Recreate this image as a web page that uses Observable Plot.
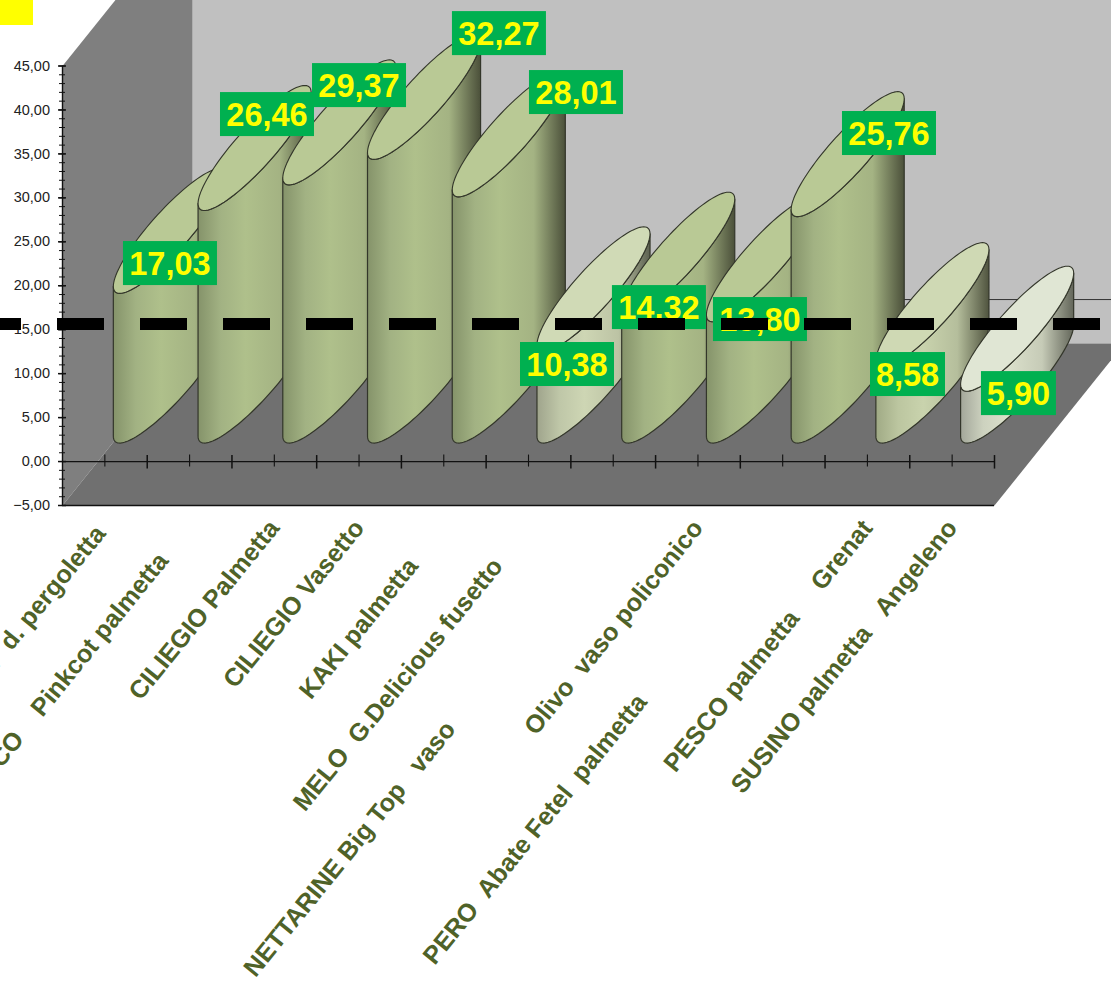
<!DOCTYPE html>
<html>
<head>
<meta charset="utf-8">
<script src="https://cdn.jsdelivr.net/npm/d3@7"></script>
<script src="https://cdn.jsdelivr.net/npm/@observablehq/plot@0.6"></script>
<style>html,body{margin:0;padding:0;background:#fff;overflow:hidden}</style>
</head>
<body>
<div id="chart"></div>
<script>
const categories = ["r  d. pergoletta ","ALBICOCCO    Pinkcot palmetta      ","CILIEGIO Palmetta","CILIEGIO Vasetto","KAKI palmetta       ","MELO  G.Delicious fusetto       ","NETTARINE Big Top   vaso                                     ","Olivo  vaso policonico","PERO  Abate Fetel  palmetta                                ","PESCO palmetta     Grenat","SUSINO palmetta   Angeleno"];
const values = [17.03,26.46,29.37,32.27,28.01,10.38,14.32,13.80,25.76,8.58,5.90];
const valueLabels = ["17,03","26,46","29,37","32,27","28,01","10,38","14,32","13,80","25,76","8,58","5,90"];
const topColors = ["#b9c995","#b9c995","#b9c995","#b9c995","#b9c995","#d0dab6","#b9c995","#b9c995","#b9c995","#cfd9b4","#e0e6d4"];
const stopOffsets = [0,.2,.42,.72,1];
const greenStops = ["#85936a","#a2b283","#afc08b","#a4b383","#4b503a"];
const gradientStops = [greenStops,greenStops,greenStops,greenStops,greenStops,
  ["#9fa48c","#bfc7a8","#ced6b4","#bcc3a4","#5c6150"],
  greenStops,greenStops,greenStops,
  ["#a0aa85","#bcc6a0","#c9d3ad","#b5be9c","#50543f"],
  ["#a3a79a","#cdd2bf","#dbe0cb","#c6cbb7","#63665a"]
];
// label box centre offset from the top-ellipse centre, in pixels
const labelDX = [0.6,12.9,20.2,75.4,67.7,-26,-18.8,-2.5,41.8,-24.4,1.8];
const labelDY = [32.7,-33.4,-36.8,-63.3,-41.8,75.2,52.9,60.3,-20.6,69.4,64.9];

const majorTicks = d3.range(-5,46,5);
const minorTicks = d3.range(-5,46,1);
const meanLine = 15.65;

const width = 1111, height = 991;
const margins = {marginLeft:62, marginRight:117, marginTop:65.5, marginBottom:486};
const pxX = (width - margins.marginLeft - margins.marginRight) / 11;
const pxY = (height - margins.marginTop - margins.marginBottom) / 50;
const ux = p => p / pxX, uy = p => p / pxY;

const depthX = ux(130), depthY = uy(162);
const at = (u, v, d = 0) => ({x: u + depthX * d, y: v + depthY * d});
const closed = pts => [...pts, pts[0]];

const ru = ux(26), rdx = ux(50.2), rdy = uy(62.5);
const t0 = Math.atan2(rdx, ru);
const ellipsePoint = (i, v, t) => ({
  x: i + 0.5 + depthX * 0.5 + ru * Math.cos(t) + rdx * Math.sin(t),
  y: v + depthY * 0.5 + rdy * Math.sin(t)
});
const sweep = (i, v, a, b, n = 64) => d3.range(n + 1).map(k => ellipsePoint(i, v, a + (b - a) * k / n));

const poly = (pts, o) => Plot.line(pts, {x:"x", y:"y", curve:"linear", ...o});

const defs = () => {
  const ns = "http://www.w3.org/2000/svg";
  const d = document.createElementNS(ns, "defs");
  gradientStops.forEach((s, i) => {
    const g = document.createElementNS(ns, "linearGradient");
    g.setAttribute("id", "g" + i);
    stopOffsets.forEach((o, k) => {
      const st = document.createElementNS(ns, "stop");
      st.setAttribute("offset", o);
      st.setAttribute("stop-color", s[k]);
      g.appendChild(st);
    });
    d.appendChild(g);
  });
  return d;
};

const cylinders = values.flatMap((v, i) => [
  poly(closed([...sweep(i, 0, t0 + Math.PI, t0 + 2 * Math.PI), ...sweep(i, v, t0 + 2 * Math.PI, t0 + Math.PI)]),
       {fill:`url(#g${i})`, stroke:"#33362a", strokeWidth:1.2}),
  poly(sweep(i, v, 0, 2 * Math.PI, 96), {fill:topColors[i], stroke:"#33362a", strokeWidth:1.1})
]);

const boxes = values.map((v, i) => {
  const cx = i + 0.5 + depthX * 0.5 + ux(labelDX[i]), cy = v + depthY * 0.5 - uy(labelDY[i]);
  const w = valueLabels[i].length === 5 ? 94 : 75;
  return {label:valueLabels[i], x:cx, y:cy, x1:cx - ux(w / 2), x2:cx + ux(w / 2), y1:cy - uy(22), y2:cy + uy(22)};
});

const font = "Liberation Sans, Arial, sans-serif";
const chart = Plot.plot({
  width, height, ...margins,
  style:{background:"#fff", fontFamily:font, overflow:"hidden"},
  x:{domain:[0,11], axis:null},
  y:{domain:[-5,45], axis:null},
  marks:[
    defs,
    // back wall, left wall, floor
    poly(closed([at(0,-5,1),at(11,-5,1),at(11,45,1),at(0,45,1)]), {fill:"#c0c0c0"}),
    poly(closed([at(0,-5),at(0,-5,1),at(0,45,1),at(0,45)]), {fill:"#7f7f7f"}),
    poly(closed([at(0,-5),at(11,-5),at(11,-5,1),at(0,-5,1)]), {fill:"#707070"}),
    Plot.ruleY([0 + depthY], {x1:depthX, x2:11 + depthX, stroke:"#333", strokeWidth:1}),
    // axes
    Plot.ruleX([0], {y1:-5, y2:45, stroke:"#111", strokeWidth:1.4}),
    Plot.ruleY([-5], {x1:0, x2:11, stroke:"#111", strokeWidth:1.6}),
    Plot.ruleY([0], {x1:0, x2:11, stroke:"#111", strokeWidth:1.2}),
    Plot.ruleY(minorTicks, {x1:ux(-3), x2:ux(3), stroke:"#111", strokeWidth:1}),
    Plot.ruleY(majorTicks, {x1:ux(-4), x2:ux(4), stroke:"#111", strokeWidth:1.5}),
    Plot.ruleX(d3.range(0.5, 11, 1), {y1:uy(-5.5), y2:uy(6.5), stroke:"#111", strokeWidth:1.1}),
    Plot.ruleX(d3.range(1, 12, 1), {y1:uy(-7.5), y2:uy(6), stroke:"#111", strokeWidth:1.5}),
    Plot.axisY({ticks:majorTicks, tickSize:0, tickPadding:12.5, fontSize:14.5, fill:"#222",
      tickFormat:d => d3.format(".2f")(d).replace(".", ","), label:null}),
    ...cylinders,
    // value labels
    Plot.rect(boxes, {x1:"x1", x2:"x2", y1:"y1", y2:"y2", fill:"#00b050"}),
    Plot.text(boxes, {x:"x", y:"y", text:"label", fill:"#ffff00", fontSize:32.5, fontWeight:"bold", fontFamily:font, dx:-0.5, dy:1}),
    // dashed reference line
    Plot.ruleY([meanLine], {x1:ux(-88), x2:ux(1100 - 62), stroke:"#000", strokeWidth:12, strokeDasharray:"47 36"}),
    // legend swatch
    Plot.rect([{}], {x1:ux(-62), x2:ux(33 - 62), y1:uy(65.5 - 25) + 45, y2:uy(65.5) + 45, fill:"#ffff00"}),
    // category labels
    Plot.text(categories.map((c, i) => ({c:c.replace(/ /g, "\u00a0"), x:i + 0.5, y:uy(-62)})), {
      x:"x", y:"y", text:"c", rotate:-51, textAnchor:"end", fontSize:25.2, fontWeight:"bold", fontFamily:font, fill:"#4f6228"
    })
  ]
});
document.getElementById("chart").appendChild(chart);
</script>
</body>
</html>
